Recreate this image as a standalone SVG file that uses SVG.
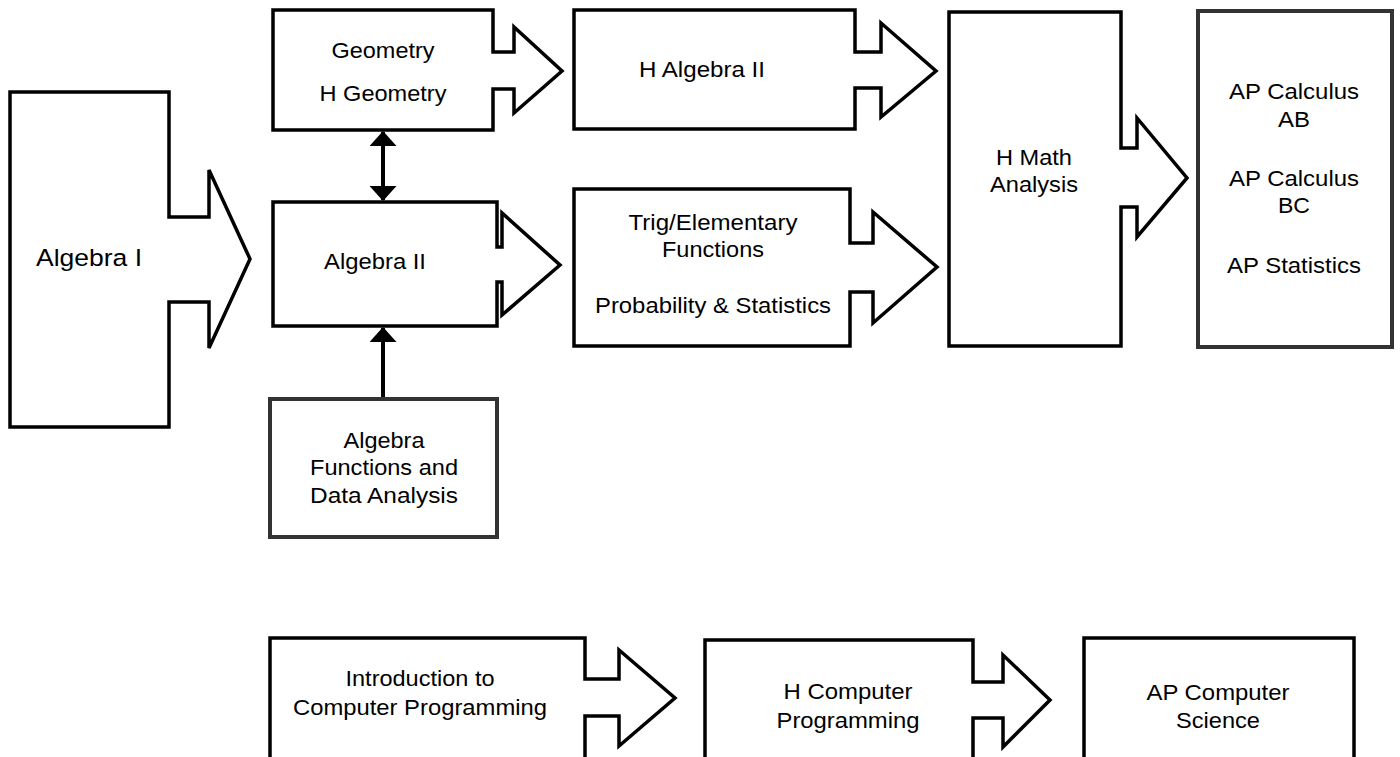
<svg xmlns="http://www.w3.org/2000/svg" width="1400" height="757" viewBox="0 0 1400 757">
<defs>
<style>
.s{fill:#fff;stroke:#000;stroke-width:3.5;stroke-linejoin:miter}
.g{fill:#fff;stroke:#333;stroke-width:4}
.t{font-family:"Liberation Sans",Arial,sans-serif;font-size:21.5px;fill:#000;text-anchor:middle}
.c{stroke:#000;stroke-width:4;fill:none}
</style>
<marker id="ah" viewBox="0 0 15 27" refX="14" refY="13.5" markerWidth="15" markerHeight="27" markerUnits="userSpaceOnUse" orient="auto-start-reverse">
<path d="M0,0 L15,13.5 L0,27 Z" fill="#000"/>
</marker>
</defs>
<rect width="1400" height="757" fill="#fff"/>

<g id="algebra1">
<path class="s" d="M10,92 H169 V217 H209 V170 L250,259 L209,348 V302 H169 V427 H10 Z"/>
<text class="t" x="89" y="266" style="font-size:24.5px" textLength="106" lengthAdjust="spacingAndGlyphs">Algebra I</text>
</g>

<g id="geometry">
<path class="s" d="M273,10 H493 V52 H514 V27 L562,71 L514,113 V89 H493 V130 H273 Z"/>
<text class="t" x="383" y="58" textLength="103" lengthAdjust="spacingAndGlyphs">Geometry</text>
<text class="t" x="383" y="101" textLength="127" lengthAdjust="spacingAndGlyphs">H Geometry</text>
</g>

<g id="algebra2">
<path class="s" d="M273,202 H497 V247 H502 V213 L560,265 L502,315 V282 H497 V326 H273 Z"/>
<text class="t" x="375" y="269" textLength="102" lengthAdjust="spacingAndGlyphs">Algebra II</text>
</g>

<g id="afda">
<rect class="g" x="270" y="399" width="227" height="138"/>
<text class="t" x="384" y="448" textLength="81" lengthAdjust="spacingAndGlyphs">Algebra</text>
<text class="t" x="384" y="475" textLength="148" lengthAdjust="spacingAndGlyphs">Functions and</text>
<text class="t" x="384" y="503" textLength="148" lengthAdjust="spacingAndGlyphs">Data Analysis</text>
</g>

<g id="halgebra2">
<path class="s" d="M574,10 H855 V52 H881 V23 L936,71 L881,117 V88 H855 V129 H574 Z"/>
<text class="t" x="702" y="77" textLength="126" lengthAdjust="spacingAndGlyphs">H Algebra II</text>
</g>

<g id="trig">
<path class="s" d="M574,189 H850 V243 H873 V212 L937,267 L873,323 V292 H850 V346 H574 Z"/>
<text class="t" x="713" y="230" textLength="169" lengthAdjust="spacingAndGlyphs">Trig/Elementary</text>
<text class="t" x="713" y="257" textLength="102" lengthAdjust="spacingAndGlyphs">Functions</text>
<text class="t" x="713" y="313" textLength="236" lengthAdjust="spacingAndGlyphs">Probability &amp; Statistics</text>
</g>

<g id="hmath">
<path class="s" d="M949,12 H1121 V148 H1137 V118 L1187,178 L1137,237 V207 H1121 V346 H949 Z"/>
<text class="t" x="1034" y="165" textLength="76" lengthAdjust="spacingAndGlyphs">H Math</text>
<text class="t" x="1034" y="192" textLength="88" lengthAdjust="spacingAndGlyphs">Analysis</text>
</g>

<g id="ap">
<rect class="g" x="1198" y="11" width="194" height="336"/>
<text class="t" x="1294" y="99" textLength="130" lengthAdjust="spacingAndGlyphs">AP Calculus</text>
<text class="t" x="1294" y="127" textLength="32" lengthAdjust="spacingAndGlyphs">AB</text>
<text class="t" x="1294" y="186" textLength="130" lengthAdjust="spacingAndGlyphs">AP Calculus</text>
<text class="t" x="1294" y="213" textLength="32" lengthAdjust="spacingAndGlyphs">BC</text>
<text class="t" x="1294" y="273" textLength="134" lengthAdjust="spacingAndGlyphs">AP Statistics</text>
</g>

<g id="intro">
<path class="s" d="M270,638 H585 V679 H619 V650 L675,698 L619,746 V716 H585 V775 H270 Z"/>
<text class="t" x="420" y="686" textLength="149" lengthAdjust="spacingAndGlyphs">Introduction to</text>
<text class="t" x="420" y="715" textLength="254" lengthAdjust="spacingAndGlyphs">Computer Programming</text>
</g>

<g id="hcomp">
<path class="s" d="M705,640 H973 V682 H1003 V655 L1050,700 L1003,747 V718 H973 V775 H705 Z"/>
<text class="t" x="848" y="699" textLength="129" lengthAdjust="spacingAndGlyphs">H Computer</text>
<text class="t" x="848" y="728" textLength="143" lengthAdjust="spacingAndGlyphs">Programming</text>
</g>

<g id="apcs">
<rect class="s" x="1084" y="638" width="270" height="140"/>
<text class="t" x="1218" y="700" textLength="143" lengthAdjust="spacingAndGlyphs">AP Computer</text>
<text class="t" x="1218" y="728" textLength="84" lengthAdjust="spacingAndGlyphs">Science</text>
</g>

<g id="connectors">
<line class="c" x1="383" y1="132" x2="383" y2="200" marker-start="url(#ah)" marker-end="url(#ah)"/>
<line class="c" x1="383" y1="397" x2="383" y2="328" marker-end="url(#ah)"/>
</g>
</svg>
